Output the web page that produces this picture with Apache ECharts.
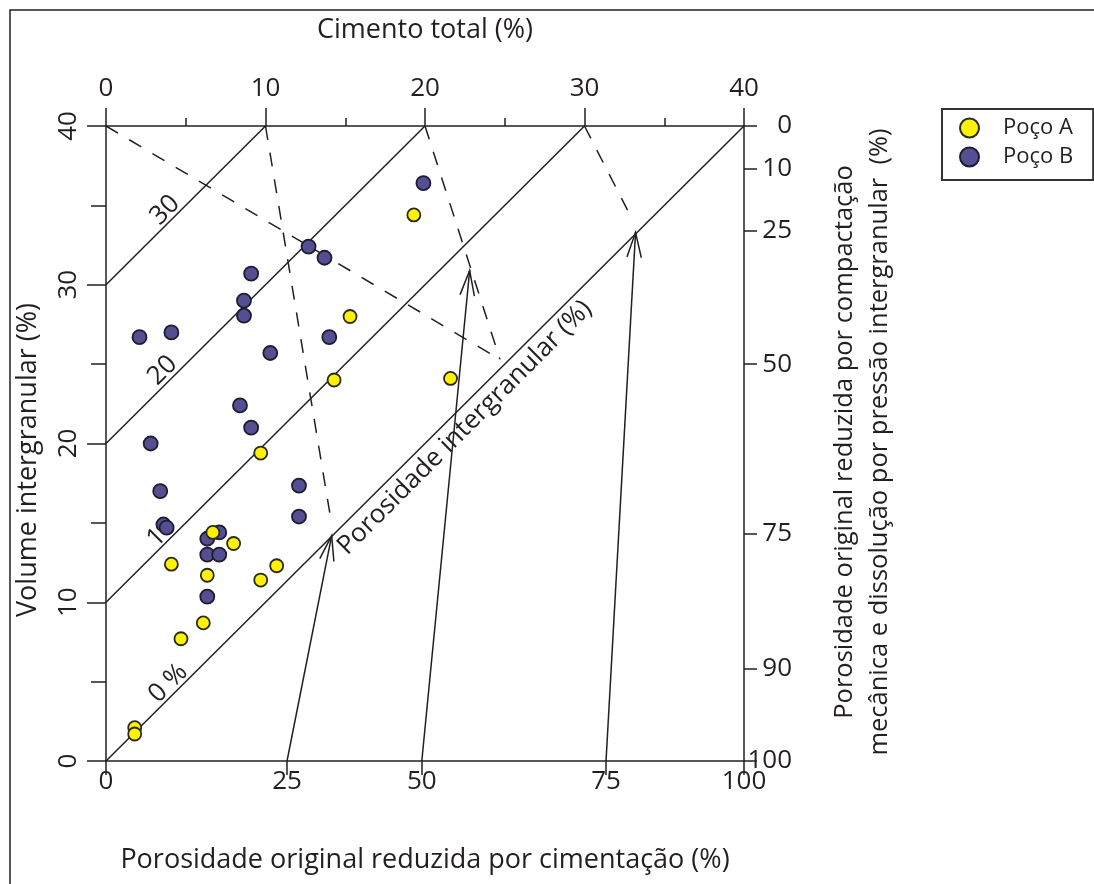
<!DOCTYPE html>
<html>
<head>
<meta charset="utf-8">
<script src="https://cdn.jsdelivr.net/npm/echarts@6/dist/echarts.min.js"></script>
<style>
  html, body { margin: 0; padding: 0; background: #fff; }
  #main { width: 1094px; height: 884px; }
</style>
</head>
<body>
<div id="main"></div>
<script>
// x = cimento total (%), y = volume intergranular (%)
const pocoA = [
  [19.3, 34.4], [15.3, 28.0], [14.3, 24.0], [21.6, 24.1], [9.7, 19.4],
  [6.7, 14.4], [8.0, 13.7], [4.1, 12.4], [6.35, 11.7], [10.7, 12.3],
  [9.7, 11.4], [6.1, 8.7], [4.7, 7.7], [1.8, 2.1], [1.8, 1.7]
];
const pocoB = [
  [19.9, 36.4], [12.7, 32.4], [13.7, 31.7], [9.1, 30.7], [8.65, 29.0],
  [8.65, 28.05], [2.1, 26.7], [4.1, 27.0], [14.0, 26.7], [10.3, 25.7],
  [8.4, 22.4], [9.1, 21.0], [2.8, 20.0], [3.4, 17.0], [3.6, 14.9],
  [3.8, 14.7], [12.1, 17.35], [12.1, 15.4], [6.35, 14.0], [7.1, 14.4],
  [6.35, 13.0], [7.1, 13.0], [6.35, 10.35]
];

// linhas de porosidade intergranular (IGV - cimento)
const isoLinhas = [
  [[0, 0], [40, 40]],
  [[0, 10], [30, 40]],
  [[0, 20], [20, 40]],
  [[0, 30], [10, 40]]
];
const isoRotulos = ['0 %', '10', '20', '30'];
const isoRotuloPos = [[3.9, 4.9], [3.5, 14.4], [3.55, 24.6], [3.7, 34.7]];

// linhas tracejadas
const tracejadas = [
  [[0, 40], [24.7, 25.3]],
  [[10, 40], [14.1, 15.2]],
  [[20, 40], [24.7, 25.3]],
  [[30, 40], [32.7, 34.7]]
];

// setas: [x0, y0, x1, y1]
const setas = [
  [11.35, 0, 14.15, 14.2],
  [19.8, 0, 22.8, 30.9],
  [31.35, 0, 33.2, 33.3]
];

// eixo inferior (porosidade reduzida por cimentação)
const ticksBase = [0, 11.35, 19.8, 31.35, 40];
const rotulosBase = ['0', '25', '50', '75', '100'];
// eixo direito (porosidade reduzida por compactação)
const ticksDireita = [40, 37.3, 33.4, 25.0, 14.3, 5.8, 0];
const rotulosDireita = ['0', '10', '25', '50', '75', '90', '100'];

const fonte = '"Open Sans", "Noto Sans", sans-serif';
const corEixo = '#231f20';

const chart = echarts.init(document.getElementById('main'));

const seriesLinhas = [];
isoLinhas.forEach(pts => {
  seriesLinhas.push({
    type: 'line', data: pts, symbol: 'none', silent: true, z: 1,
    lineStyle: { color: corEixo, width: 1.5 }
  });
});
tracejadas.forEach(pts => {
  seriesLinhas.push({
    type: 'line', data: pts, symbol: 'none', silent: true, z: 1,
    lineStyle: { color: corEixo, width: 1.5, type: [14, 13] }
  });
});

function achaRotulo(ticks, rotulos, v) {
  for (let i = 0; i < ticks.length; i++) {
    if (Math.abs(ticks[i] - v) < 1e-6) return rotulos[i];
  }
  return '';
}

const option = {
  backgroundColor: '#fff',
  animation: false,
  textStyle: { fontFamily: fonte },
  grid: { left: 106, right: 350, top: 126, bottom: 123 },
  legend: {
    data: ['Poço A', 'Poço B'],
    orient: 'vertical',
    left: 942, top: 109,
    itemWidth: 21, itemHeight: 19, itemGap: 7,
    padding: [8, 20, 12, 17],
    borderColor: '#333', borderWidth: 2,
    textStyle: { fontSize: 22, color: '#231f20', fontFamily: fonte, padding: [0, 0, 0, 18] }
  },
  xAxis: [
    {
      type: 'value', position: 'bottom', min: 0, max: 40,
      axisLine: { show: true, onZero: false, lineStyle: { color: corEixo, width: 1.5 } },
      axisTick: { show: true, length: 14, customValues: ticksBase, lineStyle: { color: corEixo, width: 1.5 } },
      axisLabel: {
        customValues: ticksBase, margin: 8, fontSize: 26, color: corEixo,
        formatter: v => achaRotulo(ticksBase, rotulosBase, v)
      },
      splitLine: { show: false },
      name: 'Porosidade original reduzida por cimentação (%)',
      nameLocation: 'middle', nameGap: 86,
      nameTextStyle: { fontSize: 27, color: corEixo }
    },
    {
      type: 'value', position: 'top', min: 0, max: 40, interval: 10,
      axisLine: { show: true, onZero: false, lineStyle: { color: corEixo, width: 1.5 } },
      axisTick: { show: true, length: 18, lineStyle: { color: corEixo, width: 1.5 } },
      minorTick: { show: true, splitNumber: 2, length: 8, lineStyle: { color: corEixo, width: 1.5 } },
      axisLabel: { margin: 24, fontSize: 26, color: corEixo },
      splitLine: { show: false },
      name: 'Cimento total (%)',
      nameLocation: 'middle', nameGap: 82,
      nameTextStyle: { fontSize: 27, color: corEixo }
    }
  ],
  yAxis: [
    {
      type: 'value', position: 'left', min: 0, max: 40, interval: 10,
      axisLine: { show: true, onZero: false, lineStyle: { color: corEixo, width: 1.5 } },
      axisTick: { show: true, length: 19, lineStyle: { color: corEixo, width: 1.5 } },
      minorTick: { show: true, splitNumber: 2, length: 15, lineStyle: { color: corEixo, width: 1.5 } },
      axisLabel: { rotate: 90, margin: 24, fontSize: 26, color: corEixo },
      splitLine: { show: false }
    },
    {
      type: 'value', position: 'right', min: 0, max: 40,
      axisLine: { show: true, onZero: false, lineStyle: { color: corEixo, width: 1.5 } },
      axisTick: { show: true, length: 13, customValues: ticksDireita, lineStyle: { color: corEixo, width: 1.5 } },
      axisLabel: {
        customValues: ticksDireita, margin: 48, align: 'right', fontSize: 26, color: corEixo,
        formatter: v => achaRotulo(ticksDireita, rotulosDireita, v)
      },
      splitLine: { show: false }
    }
  ],
  graphic: [
    {
      type: 'rect', silent: true, z: -1,
      shape: { x: 10, y: 10, width: 1100, height: 900 },
      style: { fill: 'none', stroke: '#231f20', lineWidth: 1.5 }
    },
    {
      type: 'text', silent: true, x: 28, y: 460, rotation: Math.PI / 2,
      style: {
        text: 'Volume intergranular (%)', font: '27px ' + fonte, fill: corEixo,
        textAlign: 'center', textVerticalAlign: 'middle'
      }
    },
    {
      type: 'text', silent: true, x: 862, y: 442, rotation: Math.PI / 2,
      style: {
        text: 'Porosidade original reduzida por compactação\nmecânica e dissolução por pressão intergranular  (%)',
        font: '25.5px ' + fonte, fill: corEixo, lineHeight: 35,
        textAlign: 'center', textVerticalAlign: 'middle'
      }
    }
  ],
  series: seriesLinhas.concat([
    {
      type: 'custom', silent: true, z: 1, clip: false,
      encode: { x: [0, 2], y: [1, 3] },
      data: setas,
      renderItem: (params, api) => {
        const a = api.coord([api.value(0), api.value(1)]);
        const b = api.coord([api.value(2), api.value(3)]);
        const ang = Math.atan2(a[1] - b[1], a[0] - b[0]);
        const L = 26, abre = 0.28;
        const w1 = [b[0] + L * Math.cos(ang + abre), b[1] + L * Math.sin(ang + abre)];
        const w2 = [b[0] + L * Math.cos(ang - abre), b[1] + L * Math.sin(ang - abre)];
        const estilo = { stroke: corEixo, lineWidth: 1.5, fill: 'none' };
        return {
          type: 'group',
          children: [
            { type: 'line', shape: { x1: a[0], y1: a[1], x2: b[0], y2: b[1] }, style: estilo },
            { type: 'polyline', shape: { points: [w1, b, w2] }, style: estilo }
          ]
        };
      }
    },
    {
      type: 'scatter', silent: true, z: 2, symbolSize: 0,
      data: isoRotulos.map((t, i) => ({ name: t, value: isoRotuloPos[i] })).concat([
        { name: 'Porosidade intergranular (%)', value: [22.5, 21.0] }
      ]),
      label: {
        show: true, position: 'inside', rotate: 45, formatter: '{b}',
        fontSize: 26, color: corEixo, fontFamily: fonte,
        textBorderWidth: 0, opacity: 1
      }
    },
    {
      name: 'Poço B', type: 'scatter', data: pocoB, symbolSize: 14, z: 3,
      itemStyle: { color: '#544f92', borderColor: '#1e1c2e', borderWidth: 1.8, opacity: 1 }
    },
    {
      name: 'Poço A', type: 'scatter', data: pocoA, symbolSize: 13, z: 4,
      itemStyle: { color: '#fff200', borderColor: '#2a2a1a', borderWidth: 1.8, opacity: 1 }
    }
  ])
};

chart.setOption(option);
window.addEventListener('resize', () => chart.resize());
</script>
</body>
</html>
